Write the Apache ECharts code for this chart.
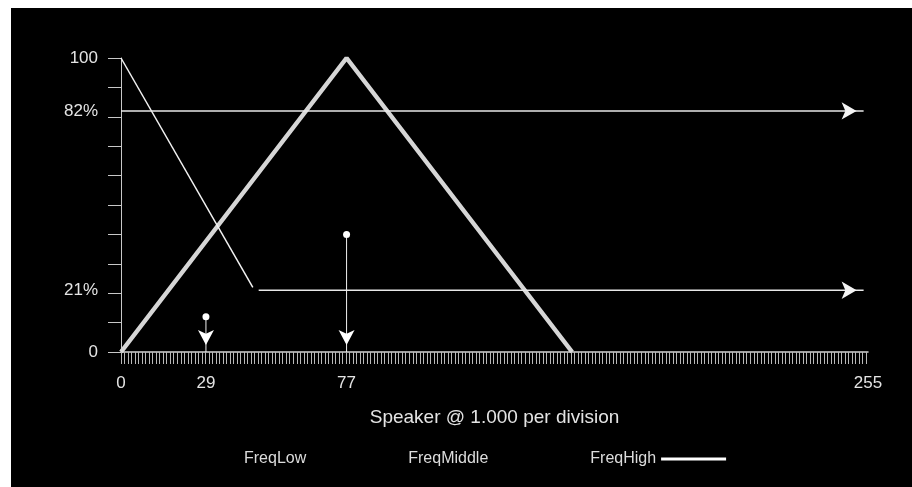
<!DOCTYPE html>
<html><head><meta charset="utf-8">
<script src="https://cdn.jsdelivr.net/npm/echarts@6/dist/echarts.min.js"></script>
<style>
html,body{margin:0;padding:0;background:#fff;}
#bg{position:absolute;left:11px;top:8px;width:901px;height:479px;background:#000;}
#chart{position:absolute;left:0;top:0;width:912px;height:487px;}
</style></head><body>
<div id="bg"></div><div id="chart"></div>
<script>
// ---- data ----
const xTickLabels = [0, 29, 77, 255];
const yTickLabels = [0, 21, 82, 100];
const legendNames = ['FreqLow', 'FreqMiddle', 'FreqHigh'];
const freqLow = [[0, 100], [45, 22]];
const freqMiddle = [[0, 0], [77, 100], [154, 0]];
const freqHigh = [];
const level82 = [[0, 82], [253.5, 82]];
const level21 = [[47, 21], [253.5, 21]];
const input29 = [[29, 12], [29, 0]];
const input77 = [[77, 40], [77, 0]];

const FONT = '"Liberation Sans", Arial, sans-serif';
const TXT = '#e4e4e4';

const xMinorTicks = [];
for (let v = 0; v <= 255.001; v += 1.2) xMinorTicks.push(+v.toFixed(2));

function hArrow(name, pts) {
  return {
    name, type: 'line', silent: true, z: 3,
    data: [
      { value: pts[0], symbol: 'none' },
      { value: pts[1], symbol: 'arrow', symbolSize: [13, 15], symbolRotate: -90, symbolOffset: [-7, 0] }
    ],
    showSymbol: true, showAllSymbol: true,
    lineStyle: { color: '#e8e8e8', width: 1.5 },
    itemStyle: { color: '#f4f4f4' },
    emphasis: { disabled: true }
  };
}
function vArrow(name, pts) {
  return {
    name, type: 'line', silent: true, z: 4,
    data: [
      { value: pts[0], symbol: 'circle', symbolSize: 7 },
      { value: pts[1], symbol: 'arrow', symbolSize: [12, 15], symbolRotate: 180, symbolOffset: [0, -7] }
    ],
    showSymbol: true, showAllSymbol: true,
    lineStyle: { color: '#f0f0f0', width: 1 },
    itemStyle: { color: '#ffffff' },
    emphasis: { disabled: true }
  };
}

const chart = echarts.init(document.getElementById('chart'));
chart.setOption({
  animation: false,
  backgroundColor: 'transparent',
  grid: { left: 121, right: 44, top: 58, bottom: 135 },
  xAxis: {
    type: 'value', min: 0, max: 255,
    axisLine: { show: true, lineStyle: { color: '#d4d4d4', width: 1.5 } },
    axisTick: { show: true, customValues: xMinorTicks, length: 12, lineStyle: { color: '#b8b8b8', width: 1 } },
    axisLabel: { customValues: xTickLabels, color: TXT, fontSize: 17, fontFamily: FONT, margin: 23 },
    splitLine: { show: false },
    name: 'Speaker @ 1.000 per division',
    nameLocation: 'middle', nameGap: 56,
    nameTextStyle: { color: TXT, fontSize: 19, fontFamily: FONT }
  },
  yAxis: {
    type: 'value', min: 0, max: 100, interval: 10,
    axisLine: { show: true, lineStyle: { color: '#c8c8c8', width: 1 } },
    axisTick: { show: true, length: 13, lineStyle: { color: '#c8c8c8', width: 1 } },
    axisLabel: {
      customValues: yTickLabels, color: TXT, fontSize: 17, fontFamily: FONT, margin: 23,
      formatter: v => (v === 0 || v === 100) ? String(v) : v + '%'
    },
    splitLine: { show: false }
  },
  legend: {
    data: [
      { name: legendNames[0], icon: 'rect', itemStyle: { opacity: 0 } },
      { name: legendNames[1], icon: 'rect', itemStyle: { opacity: 0 } },
      { name: legendNames[2], icon: 'rect' }
    ],
    left: 239, top: 446, align: 'right', itemWidth: 65, itemHeight: 3, itemGap: 32,
    selectedMode: false,
    textStyle: { color: '#dcdcdc', fontSize: 16, fontFamily: FONT }
  },
  series: [
    { name: legendNames[0], type: 'line', data: freqLow, symbol: 'none', z: 3,
      lineStyle: { color: '#f2f2f2', width: 1.5 }, itemStyle: { color: '#f2f2f2' }, emphasis: { disabled: true } },
    { name: legendNames[1], type: 'line', data: freqMiddle, symbol: 'none', z: 2,
      lineStyle: { color: '#d6d6d6', width: 4.5 }, itemStyle: { color: '#d6d6d6' }, emphasis: { disabled: true } },
    { name: legendNames[2], type: 'line', data: freqHigh, symbol: 'none',
      lineStyle: { color: '#ffffff', width: 3 }, itemStyle: { color: '#ffffff' } },
    hArrow('level82', level82),
    hArrow('level21', level21),
    vArrow('input29', input29),
    vArrow('input77', input77)
  ]
});
</script>
</body></html>
